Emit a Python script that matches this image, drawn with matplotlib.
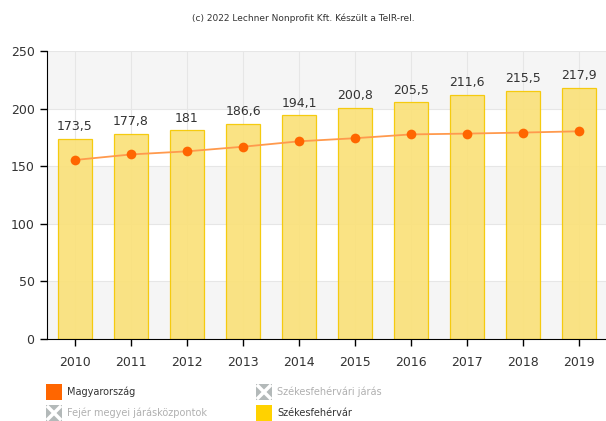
import matplotlib
matplotlib.use("Agg")
import matplotlib.pyplot as plt
from matplotlib.patches import Rectangle

years = ["2010", "2011", "2012", "2013", "2014", "2015", "2016", "2017", "2018", "2019"]
szekesfehervar = [173.5, 177.8, 181, 186.6, 194.1, 200.8, 205.5, 211.6, 215.5, 217.9]
magyarorszag = [155.4, 160.2, 162.9, 166.9, 171.6, 174.3, 177.6, 178.3, 179.2, 180.3]
bar_labels = ["173,5", "177,8", "181", "186,6", "194,1", "200,8", "205,5", "211,6", "215,5", "217,9"]
yticks = [0, 50, 100, 150, 200, 250]

W, H = 606, 421
fig = plt.figure(figsize=(W / 100, H / 100), dpi=100)
plt.rcParams['font.family'] = ['DejaVu Sans']

left, right, top, bottom = 47, 606, 51, 339
ax = fig.add_axes([left / W, 1 - bottom / H, (right - left) / W, (bottom - top) / H])

x = list(range(len(years)))
ax.set_xlim(-0.5, (right - left) / 56.0 - 0.5)
ax.set_ylim(0, 250)

# alternating bands
for i in range(0, 250, 50):
    if (i // 50) % 2 == 0:
        ax.axhspan(i, i + 50, color="#f5f5f5", zorder=0, lw=0)
for yv in yticks[1:]:
    ax.axhline(yv, color="#e6e6e6", lw=0.8, zorder=0.5)
for xv in x:
    ax.axvline(xv, color="#e6e6e6", lw=0.8, zorder=0.5)

ax.bar(x, szekesfehervar, width=0.62, color="#fae17a", edgecolor="#f5c800",
       linewidth=0.9, alpha=0.92, zorder=2)
ax.plot(x, magyarorszag, color="#ff9a4d", lw=1.3, zorder=3)
ax.plot(x, magyarorszag, "o", color="#ff6600", ms=7, zorder=4, mec="none")

for xi, v, lab in zip(x, szekesfehervar, bar_labels):
    ax.text(xi, v + 5, lab, ha="center", va="bottom", fontsize=9, color="#333333", zorder=5)

ax.set_xticks(x)
ax.set_xticklabels(years, fontsize=9, color="#333333")
ax.set_yticks(yticks)
ax.set_yticklabels([str(t) for t in yticks], fontsize=9, color="#333333")
ax.tick_params(axis="both", direction="out", length=5, width=1, color="#000000", pad=4)
ax.tick_params(axis="x", pad=7)
for s in ["top", "right"]:
    ax.spines[s].set_visible(False)
ax.spines["left"].set_color("#000000")
ax.spines["bottom"].set_color("#000000")

fig.text(0.5, 1 - 18 / H, "(c) 2022 Lechner Nonprofit Kft. Készült a TeIR-rel.",
         ha="center", va="center", fontsize=6.5, color="#333333")

# legend
def legend_item(px, py, kind, label, color_text):
    s = 16
    if kind == "gray":
        fig.patches.append(Rectangle((px / W, 1 - (py + s / 2) / H), s / W, s / H,
                                     transform=fig.transFigure, facecolor="#b3b9b9",
                                     edgecolor="none"))
        x0, x1 = (px + 2) / W, (px + s - 2) / W
        y0, y1 = 1 - (py + s / 2 - 2) / H, 1 - (py - s / 2 + 2) / H
        fig.lines.append(plt.Line2D([x0, x1], [y0, y1], transform=fig.transFigure,
                                    color="white", lw=2.5))
        fig.lines.append(plt.Line2D([x0, x1], [y1, y0], transform=fig.transFigure,
                                    color="white", lw=2.5))
    else:
        fig.patches.append(Rectangle((px / W, 1 - (py + s / 2) / H), s / W, s / H,
                                     transform=fig.transFigure, facecolor=kind,
                                     edgecolor="none"))
    fig.text((px + s + 5) / W, 1 - py / H, label, ha="left", va="center",
             fontsize=7, color=color_text)

legend_item(46, 392, "#ff6600", "Magyarország", "#333333")
legend_item(256, 392, "gray", "Székesfehérvári járás", "#b0b0b0")
legend_item(46, 413, "gray", "Fejér megyei járásközpontok", "#b0b0b0")
legend_item(256, 413, "#ffd200", "Székesfehérvár", "#333333")

fig.savefig("out.png", dpi=100)
